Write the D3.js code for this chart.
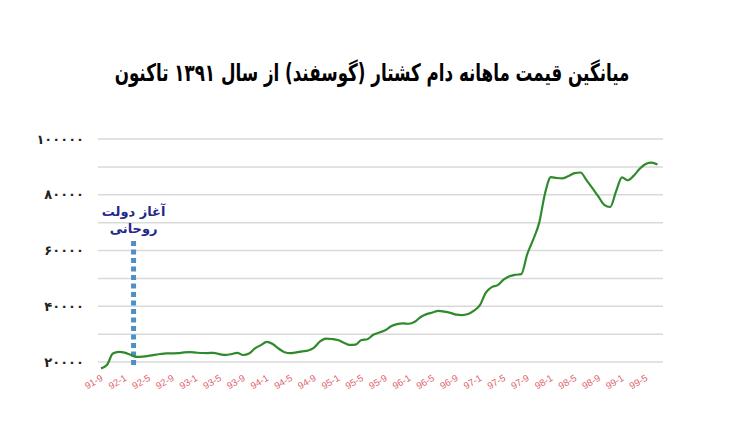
<!DOCTYPE html>
<html><head><meta charset="utf-8">
<script src="https://cdn.jsdelivr.net/npm/d3@7"></script>
<style>body{margin:0;background:#fff}svg{display:block}</style>
</head><body>
<svg id="c" width="751" height="428"></svg>
<script>
const title = "میانگین قیمت ماهانه دام کشتار (گوسفند) از سال ۱۳۹۱ تاکنون";
const firstYear = 91, firstMonth = 9, monthCount = 95;
const months = [];
for (let i = 0; i < monthCount; i++) {
  const t = firstMonth - 1 + i;
  months.push((firstYear + Math.floor(t / 12)) + "-" + (t % 12 + 1));
}
const values = [
 17700,18900,23050,23650,23370,22580,21830,21930,22190,22580,
 22870,23080,23120,23150,23440,23510,23370,23230,23190,23300,
 22830,22540,22800,23300,22510,23050,24870,26060,27240,26450,
 24840,23510,23150,23480,23800,24120,25160,27380,28390,28240,
 27880,26920,26130,26240,27880,28170,29780,30570,31360,32830,
 33580,33870,33730,34440,36130,37170,37740,38350,38060,37630,
 36990,36840,37200,38420,40390,44910,46880,47560,49530,50750,
 51290,51540,58700,63900,69820,80460,86300,86000,85900,86730,
 87740,87990,85260,82400,79390,76400,75600,81180,86240,85200,
 86850,89310,91070,91540,90820];
const tickLabels = ["91-9","92-1","92-5","92-9","93-1","93-5","93-9","94-1","94-5","94-9","95-1","95-5",
 "95-9","96-1","96-5","96-9","97-1","97-5","97-9","98-1","98-5","98-9","99-1","99-5"];
const yTicks = [20000,40000,60000,80000,100000];
const gridValues = [20000,30000,40000,50000,60000,70000,80000,90000,100000];
const markerBetween = ["92-2","92-3"];
const markerLabel = ["آغاز دولت","روحانی"];

const fa = s => String(s).replace(/\d/g, d => "۰۱۲۳۴۵۶۷۸۹"[d]);
const svg = d3.select("#c");
const x = d3.scalePoint().domain(months).range([101, 657.5]);
const y = d3.scaleLinear().domain([20000, 100000]).range([362, 139]);

const tg = svg.append("g");
const tt = tg.append("text").attr("x", 0).attr("y", 0).attr("text-anchor", "middle")
  .attr("direction", "rtl")
  .style("font-family", "DejaVu Sans").style("font-weight", "bold").style("font-size", "24px")
  .attr("fill", "#000").text(title);
const natural = tt.node().getComputedTextLength();
tg.attr("transform", `translate(372,81) scale(${515 / natural},1)`);

svg.append("g").selectAll("line").data(gridValues).join("line")
  .attr("x1", 98).attr("x2", 663).attr("y1", d => y(d)).attr("y2", d => y(d))
  .attr("stroke", "#d9d9d9").attr("stroke-width", 1.5);

svg.append("g").selectAll("text").data(yTicks).join("text")
  .attr("x", 84).attr("y", d => y(d)).attr("dy", "0.35em").attr("text-anchor", "end")
  .style("font-family", "DejaVu Sans").style("font-weight", "bold").style("font-size", "13px")
  .style("letter-spacing", "4.5px").attr("fill", "#222")
  .text(d => fa(d));

svg.append("g").selectAll("text").data(tickLabels).join("text")
  .attr("transform", d => `translate(${x(d) + 1},${377}) rotate(-30)`)
  .attr("text-anchor", "end").attr("dy", "0.35em")
  .style("font-family", "Liberation Sans").style("font-size", "9.5px")
  .attr("fill", "#e0606a").text(d => d);

const mx = d3.mean(markerBetween, m => x(m));
svg.append("line").attr("x1", mx).attr("x2", mx).attr("y1", 241).attr("y2", 368)
  .attr("stroke", "#4f8fc9").attr("stroke-width", 5).attr("stroke-dasharray", "5,3.5");
svg.append("g").selectAll("text").data(markerLabel).join("text")
  .attr("x", mx).attr("y", (d, i) => 216 + i * 17).attr("text-anchor", "middle")
  .attr("direction", "rtl")
  .style("font-family", "DejaVu Sans").style("font-weight", "bold").style("font-size", "13px")
  .attr("fill", "#23288a").text(d => d);

const line = d3.line().x((d, i) => x(months[i])).y(d => y(d)).curve(d3.curveMonotoneX);
svg.append("path").datum(values).attr("d", line).attr("fill", "none")
  .attr("stroke", "#2f8a2c").attr("stroke-width", 2.2);
</script>
</body></html>
